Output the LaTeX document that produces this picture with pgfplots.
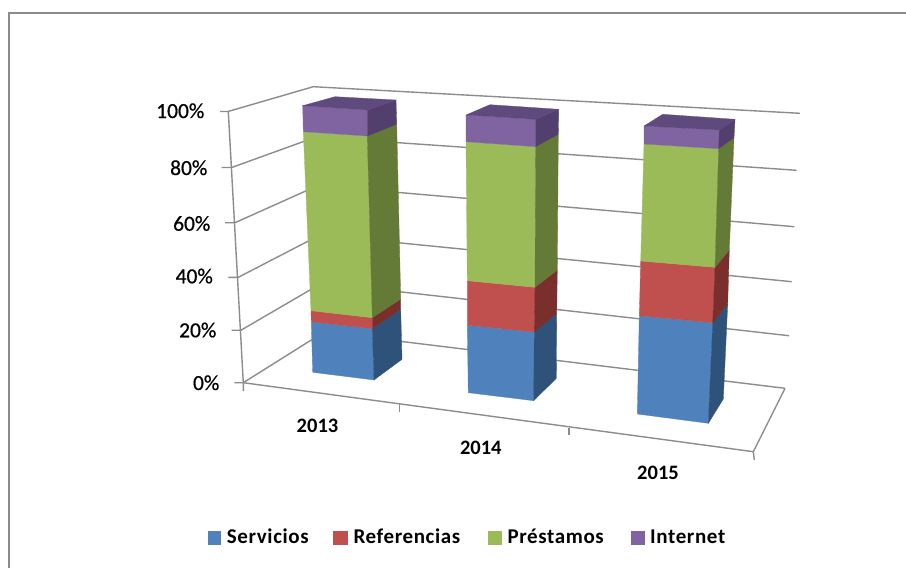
\documentclass[border=0pt]{standalone}
\usepackage{pgfplots}
\pgfplotsset{compat=1.18}
\usepackage{fontspec}
\setmainfont{Carlito}
\newfontfamily\semi[FakeBold=0.6]{Carlito}
\newfontfamily\legf[LetterSpace=3]{Carlito}
\definecolor{gl}{HTML}{8C8C8C}
\definecolor{bl}{HTML}{4F81BD}\definecolor{bls}{HTML}{2F527B}
\definecolor{rd}{HTML}{C0504D}\definecolor{rds}{HTML}{7A2F2D}
\definecolor{gr}{HTML}{9BBB59}\definecolor{grs}{HTML}{647A37}
\definecolor{pu}{HTML}{8064A2}\definecolor{pus}{HTML}{533F6D}\definecolor{put}{HTML}{5E4A7D}
\pgfplotsset{
  face/.style={fill=#1,draw=#1,line width=0.3pt,forget plot,mark=none},
  grid3/.style={draw=gl,line width=1.4pt,forget plot,mark=none},
}
\newcommand{\poly}[2]{\addplot[face=#1] coordinates {#2} -- cycle;}
\newcommand{\lin}[1]{\addplot[grid3] coordinates {#1};}
\begin{document}
\begin{tikzpicture}
\begin{axis}[
  scale only axis, width=906pt, height=568pt,
  xmin=0, xmax=906, ymin=0, ymax=568, y dir=reverse,
  hide axis, clip=true,
]
% page background
\addplot[fill=white,draw=none,forget plot,mark=none] coordinates {(0,0) (906,0) (906,568) (0,568)} -- cycle;
% frame
\addplot[draw=gl,line width=1.8pt,forget plot,mark=none] coordinates {(8.6,568) (8.6,13) (906,13)};
% side wall + back wall gridlines
\lin{(220,111.5) (228,111.5) (313.3,86.7) (800,113.3)}
\lin{(221.7,167.5) (231.7,167.5) (316,137) (796.7,170.3)}
\lin{(225,222.7) (235,222.7) (318,185.5) (794.3,226.7)}
\lin{(228.3,277.3) (238.3,277.3) (320,235) (791.7,281.7)}
\lin{(231.7,330.2) (241,330.2) (322,283) (789,335.7)}
\lin{(234.3,382.7) (243.3,382.7) (324,332) (785,388.3)}
% vertical axis edge
\lin{(228.3,111.5) (243.3,382.7) (243.3,391)}
% floor front edge with ticks
\lin{(243.3,382.7) (753.3,451.7) (754.3,460)}
\lin{(753.3,451.7) (785,388.3)}
\lin{(399.3,404) (399.3,411.7)}
\lin{(569,428) (569,435)}
% --- 2013
\poly{bl}{(311.3,321.7) (372.3,328.7) (374,380) (312.7,372.3)}
\poly{bls}{(372.3,328.7) (400.7,309.3) (402,359.3) (374,380)}
\poly{rd}{(311,310.7) (372.3,317.7) (372.3,328.7) (311.3,321.7)}
\poly{rds}{(372.3,317.7) (400.7,299) (400.7,309.3) (372.3,328.7)}
\poly{gr}{(303.3,131.7) (367.3,136) (372.3,317.7) (311,310.7)}
\poly{grs}{(367.3,136) (396.7,124.3) (400.7,299) (372.3,317.7)}
\poly{pu}{(302.7,105.7) (367.3,110) (367.3,136) (303.3,131.7)}
\poly{pus}{(367.3,110) (396,100) (396.7,124.3) (367.3,136)}
\poly{put}{(302.7,105.7) (335,96.7) (396,100) (367.3,110)}
% --- 2014
\poly{bl}{(467.3,325.3) (534.3,332) (533.7,400.7) (468.3,392.7)}
\poly{bls}{(534.3,332) (556.7,313.3) (556.3,378.3) (533.7,400.7)}
\poly{rd}{(467.3,280.7) (535,287.3) (534.3,332) (467.3,325.3)}
\poly{rds}{(535,287.3) (557.3,270) (556.7,313.3) (534.3,332)}
\poly{gr}{(466,141.7) (535.7,146.7) (535,287.3) (467.3,280.7)}
\poly{grs}{(535.7,146.7) (558.3,134.3) (557.3,270) (535,287.3)}
\poly{pu}{(466,115) (535.7,119.3) (535.7,146.7) (466,141.7)}
\poly{pus}{(535.7,119.3) (558.7,109.3) (558.3,134.3) (535.7,146.7)}
\poly{put}{(466,115) (490,104.7) (558.7,109.3) (535.7,119.3)}
% --- 2015
\poly{bl}{(639.3,315.7) (712.7,322.7) (708.3,423.3) (637.3,414)}
\poly{bls}{(712.7,322.7) (727.7,304) (723.3,399) (708.3,423.3)}
\poly{rd}{(640.7,261) (715,267.3) (712.7,322.7) (639.3,315.7)}
\poly{rds}{(715,267.3) (729.3,250) (727.7,304) (712.7,322.7)}
\poly{gr}{(644,144) (718.7,148.7) (715,267.3) (640.7,261)}
\poly{grs}{(718.7,148.7) (734,137.7) (729.3,250) (715,267.3)}
\poly{pu}{(644,126) (719.3,130) (718.7,148.7) (644,144)}
\poly{pus}{(719.3,130) (735,119.3) (734,137.7) (718.7,148.7)}
\poly{put}{(644,126) (662.7,114.3) (735,119.3) (719.3,130)}
% legend swatches
\poly{bl}{(208,531) (220,531) (220,544) (208,544)}
\poly{rd}{(333.5,531) (346.7,531) (346.7,544) (333.5,544)}
\poly{gr}{(488,531) (500.7,531) (500.7,544) (488,544)}
\poly{pu}{(630.7,531) (644,531) (644,544) (630.7,544)}
% text
\def\tl{\fontsize{21.5}{24}\selectfont\semi}
\def\tb{\fontsize{20.5}{24}\selectfont\bfseries}
\def\tg{\fontsize{21}{24}\selectfont\legf\bfseries}
\node[anchor=base east,inner sep=0pt] at (axis cs:204.5,118) {\tl 100\%};
\node[anchor=base east,inner sep=0pt] at (axis cs:207.5,175) {\tl 80\%};
\node[anchor=base east,inner sep=0pt] at (axis cs:210.5,230.7) {\tl 60\%};
\node[anchor=base east,inner sep=0pt] at (axis cs:213,283.3) {\tl 40\%};
\node[anchor=base east,inner sep=0pt] at (axis cs:216.5,337.3) {\tl 20\%};
\node[anchor=base east,inner sep=0pt] at (axis cs:219.5,390) {\tl 0\%};
\node[anchor=base,inner sep=0pt] at (axis cs:317.5,432.3) {\tb 2013};
\node[anchor=base,inner sep=0pt] at (axis cs:480.8,454) {\tb 2014};
\node[anchor=base,inner sep=0pt] at (axis cs:658,479) {\tb 2015};
\node[anchor=base west,inner sep=0pt] at (axis cs:226.7,543.3) {\tg Servicios};
\node[anchor=base west,inner sep=0pt] at (axis cs:353.3,543.3) {\tg Referencias};
\node[anchor=base west,inner sep=0pt] at (axis cs:507.3,543.3) {\tg Préstamos};
\node[anchor=base west,inner sep=0pt] at (axis cs:650,543.3) {\tg Internet};
\end{axis}
\end{tikzpicture}
\end{document}
